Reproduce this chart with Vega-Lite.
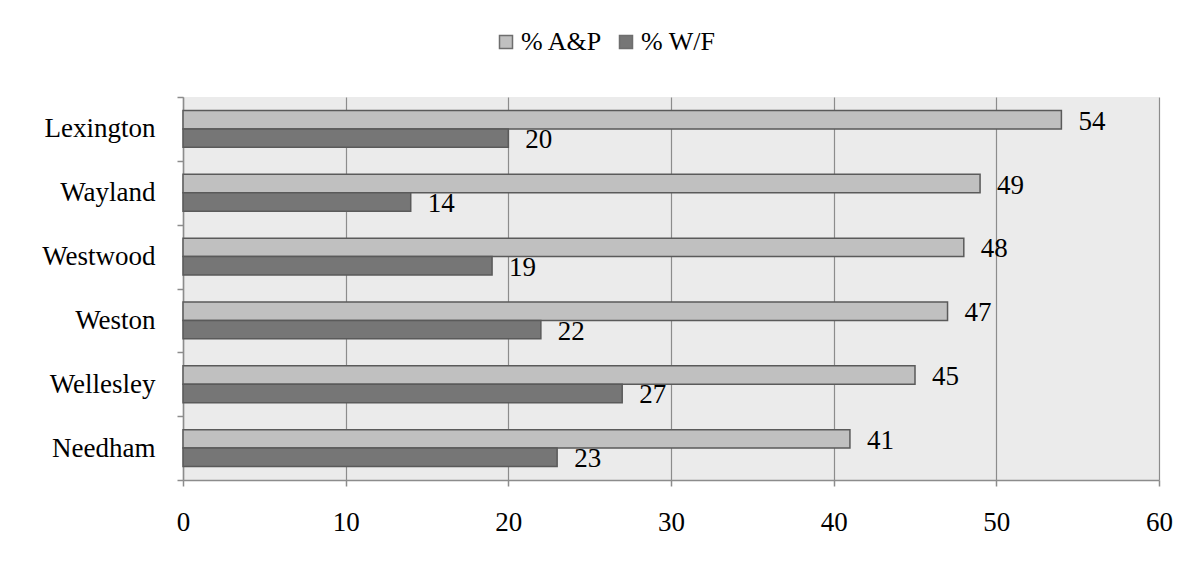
{
  "$schema": "https://vega.github.io/schema/vega-lite/v6.json",
  "autosize": {"type": "none"},
  "padding": {"left": 183, "top": 97, "right": 38, "bottom": 85},
  "width": 976,
  "height": 383,
  "background": "#ffffff",
  "config": {
    "font": "Liberation Serif",
    "view": {"fill": "#ebebeb", "stroke": null},
    "axis": {
      "labelFont": "Liberation Serif",
      "labelFontSize": 27,
      "labelColor": "#000000",
      "domainColor": "#8c8c8c",
      "tickColor": "#8c8c8c",
      "gridColor": "#8c8c8c",
      "domainWidth": 1.5,
      "tickWidth": 1.5,
      "gridWidth": 1.2,
      "title": null
    },
    "legend": {
      "labelFont": "Liberation Serif",
      "labelFontSize": 26,
      "labelColor": "#000000"
    }
  },
  "data": {
    "values": [
      {"town": "Lexington", "series": "% A&P", "pct": 54},
      {"town": "Lexington", "series": "% W/F", "pct": 20},
      {"town": "Wayland", "series": "% A&P", "pct": 49},
      {"town": "Wayland", "series": "% W/F", "pct": 14},
      {"town": "Westwood", "series": "% A&P", "pct": 48},
      {"town": "Westwood", "series": "% W/F", "pct": 19},
      {"town": "Weston", "series": "% A&P", "pct": 47},
      {"town": "Weston", "series": "% W/F", "pct": 22},
      {"town": "Wellesley", "series": "% A&P", "pct": 45},
      {"town": "Wellesley", "series": "% W/F", "pct": 27},
      {"town": "Needham", "series": "% A&P", "pct": 41},
      {"town": "Needham", "series": "% W/F", "pct": 23}
    ]
  },
  "encoding": {
    "y": {
      "field": "town",
      "type": "nominal",
      "sort": ["Lexington", "Wayland", "Westwood", "Weston", "Wellesley", "Needham"],
      "scale": {"paddingInner": 0, "paddingOuter": 0},
      "axis": {
        "tickBand": "extent",
        "tickSize": 6,
        "labelPadding": 22,
        "grid": false
      }
    },
    "yOffset": {
      "field": "series",
      "type": "nominal",
      "sort": ["% A&P", "% W/F"],
      "scale": {"paddingInner": 0, "paddingOuter": 0.73}
    },
    "x": {
      "field": "pct",
      "type": "quantitative",
      "scale": {"domain": [0, 60], "nice": false},
      "axis": {
        "values": [0, 10, 20, 30, 40, 50, 60],
        "tickSize": 6,
        "labelPadding": 23,
        "labelFlush": false,
        "labelOverlap": false,
        "grid": true,
        "domain": true
      }
    }
  },
  "layer": [
    {
      "mark": {"type": "bar", "stroke": "#5a5a5a", "strokeWidth": 1.5},
      "encoding": {
        "fill": {
          "field": "series",
          "type": "nominal",
          "scale": {"domain": ["% A&P", "% W/F"], "range": ["#c0c0c0", "#767676"]},
          "legend": {
            "title": null,
            "orient": "none",
            "direction": "horizontal",
            "legendX": 310,
            "legendY": -68,
            "symbolType": "square",
            "symbolSize": 169,
            "symbolStrokeColor": "#6e6e6e",
            "symbolStrokeWidth": 1.5,
            "labelOffset": 2,
            "columnPadding": 10
          }
        }
      }
    },
    {
      "mark": {
        "type": "text",
        "align": "left",
        "baseline": "middle",
        "dx": 17,
        "dy": 2,
        "fontSize": 27,
        "font": "Liberation Serif",
        "color": "#000000"
      },
      "encoding": {
        "text": {"field": "pct", "type": "quantitative"}
      }
    }
  ]
}
